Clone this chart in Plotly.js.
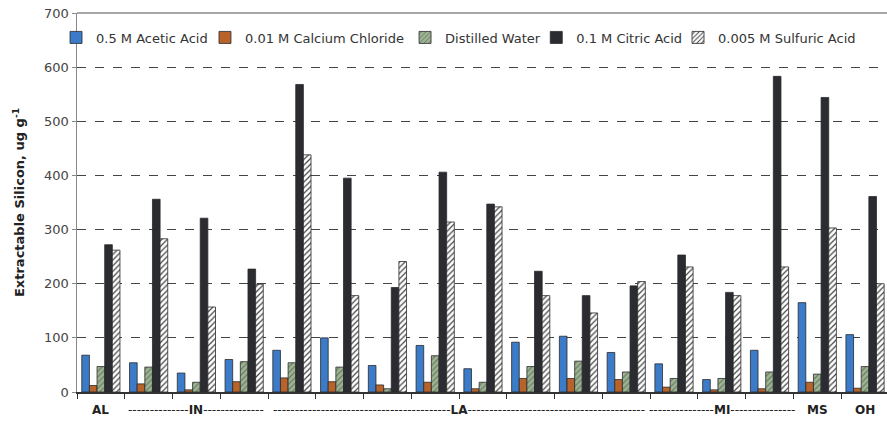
<!DOCTYPE html>
<html>
<head>
<meta charset="utf-8">
<script src="https://cdn.plot.ly/plotly-3.0.1.min.js"></script>
<style>html,body{margin:0;padding:0;background:#fff}#chart{width:887px;height:421px}</style>
</head>
<body>
<div id="chart"></div>
<script>
// Sample groups (17 soils)
const samples = ["AL","IN-1","IN-2","IN-3","LA-1","LA-2","LA-3","LA-4","LA-5","LA-6","LA-7","LA-8","MI-1","MI-2","MI-3","MS","OH"];
// State group labels and the index range they cover
const stateLabels = ["AL","IN","LA","MI","MS","OH"];
const stateStart  = [0, 1, 4, 12, 15, 16];
const stateEnd    = [0, 3, 11, 14, 15, 16];
const stateDashes = [0, 14, 41, 15, 0, 0];

const seriesNames = ["0.5 M Acetic Acid","0.01 M Calcium Chloride","Distilled Water","0.1 M Citric Acid","0.005 M Sulfuric Acid"];
const acetic    = [68, 54, 35, 60, 77, 100, 49, 86, 43, 92, 103, 73, 52, 23, 77, 165, 106];
const calcium   = [12, 15, 4, 19, 26, 19, 13, 18, 6, 25, 25, 23, 9, 4, 6, 18, 7];
const water     = [47, 46, 18, 56, 54, 46, 6, 67, 18, 47, 57, 37, 25, 25, 37, 33, 47];
const citric    = [272, 356, 321, 227, 568, 395, 193, 406, 347, 223, 178, 196, 253, 184, 583, 544, 361];
const sulfuric  = [262, 283, 157, 199, 438, 178, 241, 314, 342, 178, 146, 204, 231, 178, 231, 303, 200];

const FONT = "DejaVu Sans, Verdana, sans-serif";
const outline = {color: "#2a2a2a", width: 0.8};
const legendIds = ["legend", "legend2", "legend3", "legend4", "legend5"];
const legendX = [-0.0259, 0.158, 0.405, 0.567, 0.742];

const traces = [
  {name: seriesNames[0], y: acetic,   marker: {color: "#3b7bc8", line: outline}},
  {name: seriesNames[1], y: calcium,  marker: {color: "#b8632a", line: outline}},
  {name: seriesNames[2], y: water,    marker: {color: "#93a98a", line: outline, pattern: {shape: "/", fgcolor: "#5f7259", bgcolor: "#9db394", size: 4, solidity: 0.25}}},
  {name: seriesNames[3], y: citric,   marker: {color: "#2a2c31", line: outline}},
  {name: seriesNames[4], y: sulfuric, marker: {color: "#ffffff", line: outline, pattern: {shape: "/", fgcolor: "#444", bgcolor: "#ffffff", size: 4, solidity: 0.3}}}
].map((t, i) => Object.assign({type: "bar", x: samples, legend: legendIds[i]}, t));

const annotations = stateLabels.map((lab, i) => {
  const d = "-".repeat(stateDashes[i]);
  return {
    xref: "x", yref: "paper",
    x: (stateStart[i] + stateEnd[i]) / 2, y: 0, yshift: -18,
    xanchor: "center", yanchor: "middle",
    text: d + "<b>" + lab + "</b>" + d,
    showarrow: false,
    font: {family: FONT, size: 12, color: "#222"}
  };
});

const layout = {
  width: 887, height: 421,
  margin: {l: 77, r: 0, t: 13, b: 29},
  paper_bgcolor: "#fff", plot_bgcolor: "#fff",
  font: {family: FONT, color: "#333", size: 13},
  barmode: "group", bargap: 0.2, bargroupgap: 0,
  showlegend: true,
  xaxis: {
    type: "category", range: [-0.5, 16.46],
    showticklabels: false, ticks: "outside", tickson: "boundaries", ticklen: 5, tickcolor: "#333",
    showline: true, linecolor: "#333", linewidth: 1.5, showgrid: false, zeroline: false, fixedrange: true
  },
  yaxis: {
    range: [0, 700], dtick: 100, tick0: 0,
    ticks: "outside", ticklen: 4, tickcolor: "#888",
    showline: true, linecolor: "#888", linewidth: 1.5,
    showgrid: true, gridcolor: "#444", griddash: "dash", gridwidth: 1,
    zeroline: false,
    tickfont: {family: FONT, size: 13, color: "#444"},
    title: {text: "<b>Extractable Silicon, ug g<sup>-1</sup></b>", font: {family: FONT, size: 13, color: "#222"}, standoff: 16}
  },
  shapes: [{type: "line", xref: "paper", yref: "paper", x0: 0, x1: 1, y0: 1, y1: 1, line: {color: "#888", width: 1.5}}],
  annotations: annotations
};
legendIds.forEach((id, i) => {
  layout[id] = {orientation: "h", x: legendX[i], y: 0.975, xanchor: "left", yanchor: "top",
                bgcolor: "rgba(0,0,0,0)", font: {family: FONT, size: 13, color: "#333"}, itemwidth: 30};
});

Plotly.newPlot("chart", traces, layout, {displayModeBar: false, staticPlot: true});
</script>
</body>
</html>
